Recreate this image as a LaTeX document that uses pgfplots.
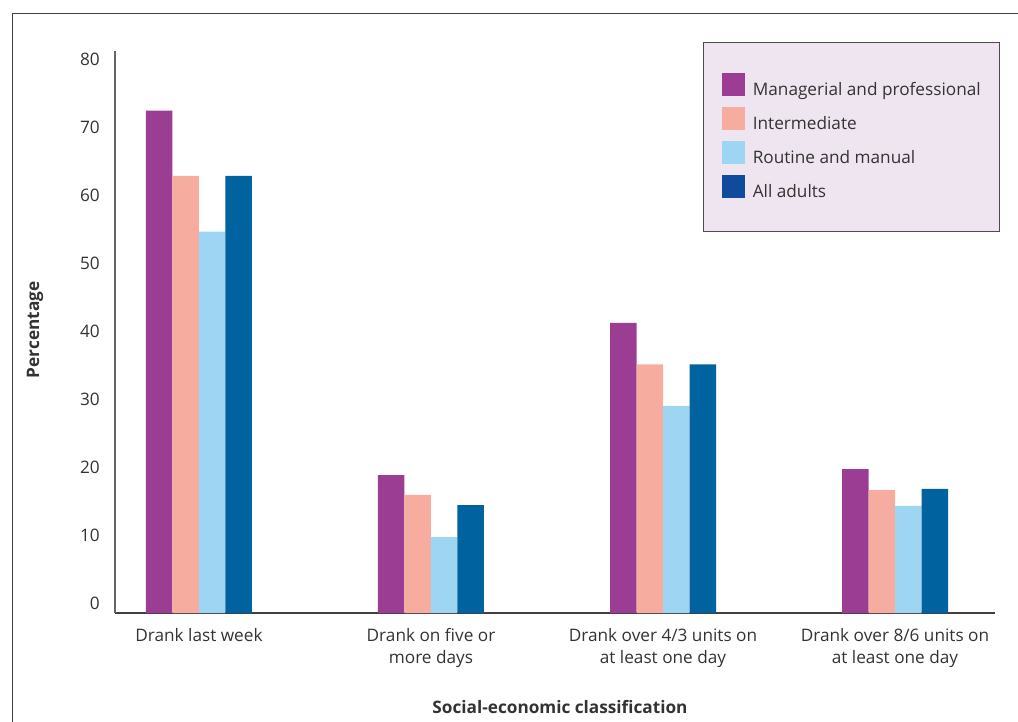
\documentclass[border=0pt]{standalone}
\usepackage{pgfplots}
\pgfplotsset{compat=1.18}
\usepackage{fontspec}
\setmainfont{Open Sans}
\definecolor{cman}{HTML}{9B3D92}
\definecolor{cint}{HTML}{F6ADA0}
\definecolor{crou}{HTML}{9DD5F2}
\definecolor{call}{HTML}{00629E}
\definecolor{callleg}{HTML}{0F4A9D}
\definecolor{legbg}{HTML}{EFE5F0}
\definecolor{txt}{HTML}{333333}
\begin{document}
\begin{tikzpicture}
\draw[line width=1pt, color=black!75] (12pt,-722pt) -- (12pt,-14pt) -- (1018pt,-14pt);
\begin{axis}[
  at={(115pt,-613pt)}, anchor=south west,
  scale only axis, width=880pt, height=562pt,
  xmin=-0.362, xmax=3.431, ymin=0, ymax=82.65,
  ybar=0pt, bar width=26.5pt,
  y filter/.expression={y+1.4706},
  axis lines*=left,
  x axis line style={draw=black!75, line width=1.2pt},
  y axis line style={draw=black!60, line width=1.2pt},
  major tick length=0pt,
  xtick={0,1,2,3},
  xticklabels={Drank last week, Drank on five or\\more days, Drank over 4/3 units on\\at least one day, Drank over 8/6 units on\\at least one day},
  ytick={1.4706,11.4706,21.4706,31.4706,41.4706,51.4706,61.4706,71.4706,81.4706},
  yticklabels={0,10,20,30,40,50,60,70,80},
  tick label style={font=\fontsize{17.2}{22}\selectfont, text=txt, inner sep=0pt},
  xticklabel style={align=center, anchor=north},
  xticklabel shift=15pt,
  yticklabel style={anchor=east},
  yticklabel shift=15pt,
  every axis y label/.style={at={(rel axis cs:-0.0909,0.5036)}, rotate=90, anchor=center, font=\fontsize{17.2}{20}\selectfont\bfseries, text=txt},
  every axis x label/.style={at={(rel axis cs:0.5057,-0.1673)}, anchor=center, font=\fontsize{17.2}{20}\selectfont\bfseries, text=txt},
  ylabel={Percentage},
  xlabel={Social-economic classification},
  legend style={at={(rel axis cs:0.668,1.016)}, anchor=north west,
    fill=legbg, draw=black!70, line width=1pt,
    inner xsep=18.5pt, inner ysep=30pt, row sep=7pt,
    font=\fontsize{17.2}{20}\selectfont, text=txt,
    nodes={inner sep=0pt, text depth=4pt},
    /tikz/every odd column/.append style={column sep=8pt}},
  legend cell align=left,
  legend style={cells={anchor=base west}},
]
\addplot[fill=cman, draw=none, legend image code/.code={\fill[cman] (0pt,0pt) rectangle (23pt,23pt);}] coordinates {(0,72.4) (1,18.8) (2,41.2) (3,19.7)};
\addplot[fill=cint, draw=none, legend image code/.code={\fill[cint] (0pt,0pt) rectangle (23pt,23pt);}] coordinates {(0,62.8) (1,15.9) (2,35.1) (3,16.6)};
\addplot[fill=crou, draw=none, legend image code/.code={\fill[crou] (0pt,0pt) rectangle (23pt,23pt);}] coordinates {(0,54.6) (1,9.7) (2,29.0) (3,14.3)};
\addplot[fill=call, draw=none, legend image code/.code={\fill[callleg] (0pt,0pt) rectangle (23pt,23pt);}] coordinates {(0,62.8) (1,14.4) (2,35.1) (3,16.8)};
\legend{Managerial and professional, Intermediate, Routine and manual, All adults}
\end{axis}
\pgfresetboundingbox
\path[use as bounding box] (0pt,0pt) rectangle (1018pt,-722pt);
\end{tikzpicture}
\end{document}
